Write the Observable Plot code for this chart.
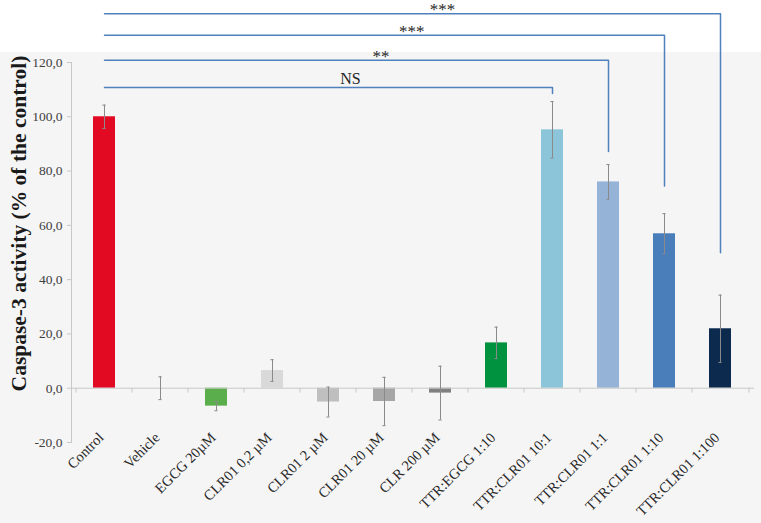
<!DOCTYPE html>
<html><head><meta charset="utf-8">
<script src="https://cdn.jsdelivr.net/npm/d3@7"></script>
<script src="https://cdn.jsdelivr.net/npm/@observablehq/plot@0.6"></script>
<style>body{margin:0;background:#fff}</style>
</head><body><div id="chart"></div>
<script>
const categories = ["Control","Vehicle","EGCG 20µM","CLR01 0,2 µM","CLR01 2 µM","CLR01 20 µM","CLR 200 µM","TTR:EGCG 1:10","TTR:CLR01 10:1","TTR:CLR01 1:1","TTR:CLR01 1:10","TTR:CLR01 1:100"];
const values = [100.0, 0.0, -6.6, 6.5, -5.1, -4.9, -1.8, 16.7, 95.2, 76.0, 56.9, 21.9];
const errors = [4.3, 4.2, 1.7, 4.0, 5.5, 8.9, 9.9, 5.8, 10.4, 6.4, 7.4, 12.4];
const colors = ["#e20a23","#e20a23","#5aae4b","#d9d9d9","#bfbfbf","#a6a6a6","#808080","#00923f","#8cc5da","#95b3d7","#4a7ebb","#0c2a4d"];
const yTicks = [-20, 0, 20, 40, 60, 80, 100, 120];

const bracketFrom = "Control";
const bracketTargets = ["TTR:CLR01 10:1","TTR:CLR01 1:1","TTR:CLR01 1:10","TTR:CLR01 1:100"];
const bracketLabels = ["NS","**","***","***"];
const bracketLevels = [110.8, 120.8, 130.0, 138.0];
const bracketEnds = [108.6, 87.2, 74.5, 49.9];

const rows = categories.map((c, i) => ({cat: c, value: values[i], err: errors[i], color: colors[i]}));
const bracketPts = bracketTargets.flatMap((t, i) => [
  {id: i, x: bracketFrom, y: bracketLevels[i]},
  {id: i, x: t, y: bracketLevels[i]},
  {id: i, x: t, y: bracketEnds[i]}
]);

const W = 761, H = 523, ML = 71, MR = 7, MT = 62, MB = 81;
const step = (W - ML - MR) / categories.length;
const fmt = v => v.toFixed(1).replace(".", ",");
const serif = "'Liberation Serif', 'Times New Roman', serif";

const labelMarks = bracketTargets.map((t, i) => {
  const isNS = bracketLabels[i] === "NS";
  return Plot.text([bracketLabels[i]], {
    x: () => bracketFrom, y: () => bracketLevels[i], text: d => d,
    dx: 0.54 * categories.indexOf(t) * step, dy: isNS ? -3.5 : 1.5, lineAnchor: "bottom",
    fontSize: isNS ? 16 : 17, fill: "#262626", fontFamily: serif,
    style: isNS ? undefined : "letter-spacing: 1.5px"
  });
});

const chart = Plot.plot({
  width: W, height: H,
  marginLeft: ML, marginRight: MR, marginTop: MT, marginBottom: MB,
  style: {background: "linear-gradient(#ffffff 0px, #ffffff 52px, #f5f5f5 52px)", fontFamily: serif},
  x: {domain: categories, paddingInner: 0.6, paddingOuter: 0.3, axis: null},
  y: {domain: [-20, 120], axis: null},
  color: {type: "identity"},
  marks: [
    Plot.frame({anchor: "left", stroke: "#c8c8c8"}),
    Plot.axisY({ticks: yTicks, tickSize: 4, tickFormat: () => "", stroke: "#c8c8c8"}),
    Plot.axisY({ticks: yTicks, tickSize: 0, tickPadding: 9, tickFormat: fmt, fontSize: 13.5, fill: "#404040", fontFamily: serif}),
    Plot.barY(rows, {x: "cat", y: "value", fill: "color"}),
    Plot.ruleY([0], {stroke: "#c8c8c8"}),
    Plot.ruleX(categories, {x: d => d, y1: 0, y2: -1.8, dx: -step / 2, stroke: "#c8c8c8"}),
    Plot.ruleX(categories.slice(-1), {x: d => d, y1: 0, y2: -1.8, dx: step / 2, stroke: "#c8c8c8"}),
    Plot.ruleX(rows, {x: "cat", y1: d => d.value - d.err, y2: d => d.value + d.err, stroke: "#8a8a8a", strokeWidth: 1}),
    Plot.tickY(rows, {x: "cat", y: d => d.value - d.err, stroke: "#8a8a8a", insetLeft: step * 0.2 - 2, insetRight: step * 0.2 - 2}),
    Plot.tickY(rows, {x: "cat", y: d => d.value + d.err, stroke: "#8a8a8a", insetLeft: step * 0.2 - 2, insetRight: step * 0.2 - 2}),
    Plot.line(bracketPts, {x: "x", y: "y", z: "id", stroke: "#4f81bd", strokeWidth: 1.5}),
    ...labelMarks,
    Plot.text(categories, {x: d => d, text: d => d, frameAnchor: "bottom", rotate: -45, textAnchor: "end",
      dx: 0, dy: -4, fontSize: 14.5, fill: "#262626", fontFamily: serif}),
    Plot.text(["Caspase-3 activity (% of the control)"], {text: d => d, frameAnchor: "left", rotate: -90, textAnchor: "middle",
      dx: -52, dy: -29, fontSize: 21.5, fontWeight: "bold", fill: "#1a1a1a", fontFamily: serif})
  ]
});
document.getElementById("chart").appendChild(chart);
</script>
</body></html>
